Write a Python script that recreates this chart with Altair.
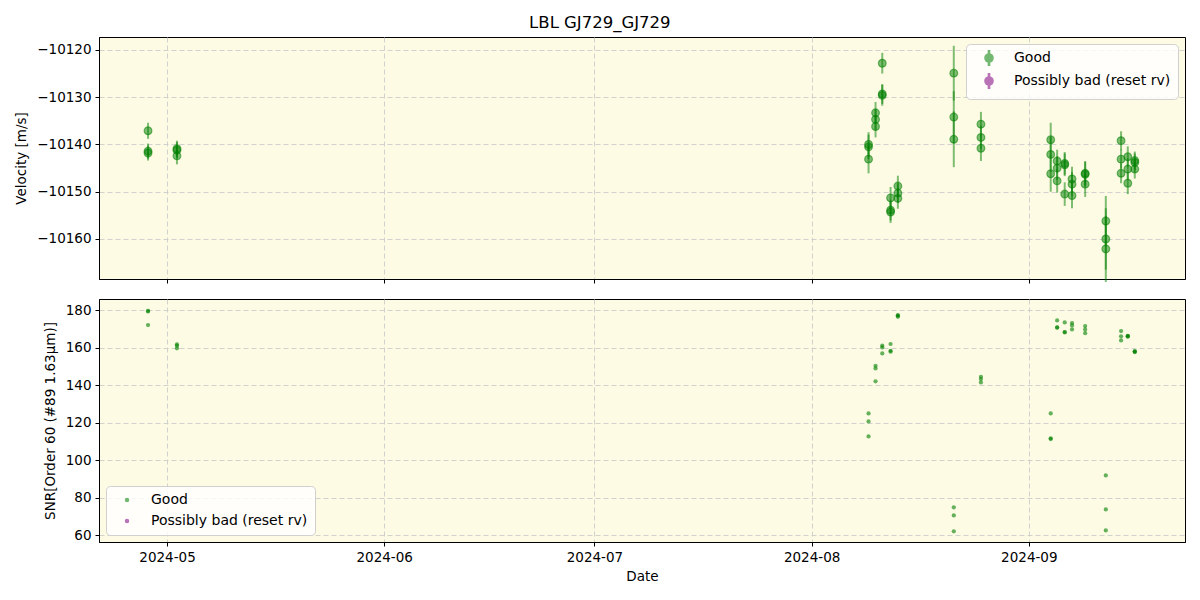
import altair as alt
import pandas as pd

# ---- data ----
nights = [
    "2024-04-28T07:00:00", "2024-05-02T10:00:00",
    "2024-08-09T03:00:00", "2024-08-10T03:00:00", "2024-08-11T02:00:00",
    "2024-08-12T06:30:00", "2024-08-13T07:30:00", "2024-08-21T07:00:00",
    "2024-08-25T04:00:00",
    "2024-09-04T03:00:00", "2024-09-05T01:00:00", "2024-09-06T03:00:00",
    "2024-09-07T04:00:00", "2024-09-09T01:00:00", "2024-09-11T23:45:00",
    "2024-09-14T04:00:00", "2024-09-15T03:00:00", "2024-09-16T03:00:00",
]
velocity = [
    [-10137.1, -10141.4, -10141.8],
    [-10140.9, -10141.2, -10142.4],
    [-10140.0, -10140.5, -10143.1],
    [-10133.3, -10134.7, -10136.2],
    [-10122.8, -10129.3, -10129.6],
    [-10151.3, -10153.9, -10154.3],
    [-10148.8, -10150.3, -10151.4],
    [-10124.9, -10134.2, -10138.9],
    [-10135.7, -10138.5, -10140.8],
    [-10139.0, -10142.1, -10146.2],
    [-10143.5, -10145.0, -10147.7],
    [-10144.0, -10144.3, -10150.5],
    [-10147.3, -10148.4, -10150.8],
    [-10146.1, -10146.3, -10148.4],
    [-10156.2, -10160.0, -10162.1],
    [-10139.2, -10143.1, -10146.1],
    [-10142.6, -10145.2, -10148.2],
    [-10143.4, -10143.8, -10145.2],
]
velocity_err = [
    [1.7, 1.6, 1.6],
    [1.7, 1.7, 1.8],
    [2.6, 2.6, 3.0],
    [2.3, 2.2, 2.3],
    [2.2, 2.1, 2.2],
    [2.3, 2.2, 2.3],
    [2.2, 2.1, 2.2],
    [5.8, 5.5, 5.9],
    [2.6, 2.5, 2.7],
    [3.6, 3.7, 3.8],
    [2.4, 2.5, 2.5],
    [2.4, 2.4, 2.5],
    [2.6, 2.6, 2.7],
    [2.6, 2.6, 2.7],
    [5.3, 6.5, 7.0],
    [2.0, 2.0, 2.1],
    [2.2, 2.3, 2.3],
    [1.9, 1.9, 2.0],
]
snr = [
    [172.0, 179.6, 179.3],
    [161.7, 161.0, 159.6],
    [124.9, 120.6, 112.6],
    [150.3, 148.9, 142.0],
    [156.9, 161.0, 160.1],
    [161.9, 158.3, 157.8],
    [177.3, 176.4, 177.0],
    [74.8, 70.5, 62.0],
    [144.4, 143.2, 141.4],
    [124.9, 111.2, 111.6],
    [174.5, 170.8, 170.6],
    [173.4, 168.1, 168.3],
    [173.1, 171.8, 169.7],
    [171.5, 169.7, 167.7],
    [91.8, 73.7, 62.5],
    [168.8, 166.0, 163.8],
    [166.3, 165.8, 166.1],
    [157.8, 158.1, 157.6],
]
categories = ["Good", "Possibly bad (reset rv)"]
cat_colors = ["green", "purple"]
vel_ticks = [-10160, -10150, -10140, -10130, -10120]
snr_ticks = [60, 80, 100, 120, 140, 160, 180]

rows = []
for d, vs, es, ss in zip(nights, velocity, velocity_err, snr):
    for v, e, s in zip(vs, es, ss):
        rows.append({"date": d, "vel": v, "lo": v - e, "hi": v + e, "snr": s, "flag": "Good"})
df = pd.DataFrame(rows)

FONT = "DejaVu Sans"
x_dom = [alt.DateTime(year=2024, month=4, date=21, hours=7),
         alt.DateTime(year=2024, month=9, date=23, hours=7)]

def xenc(show_labels):
    return alt.X(
        "date:T",
        scale=alt.Scale(domain=x_dom),
        axis=alt.Axis(
            title="Date" if show_labels else None,
            format="%Y-%m",
            tickCount=alt.TimeIntervalStep(interval="month", step=1),
            labels=show_labels,
            labelPadding=4,
        ),
    )

color_scale = alt.Scale(domain=categories, range=cat_colors)

legend_common = dict(
    title=None, fillColor="rgba(255,255,255,0.8)", strokeColor="#d0d0d0",
    cornerRadius=4, padding=7, labelFontSize=14, labelFont=FONT,
    symbolOpacity=0.55, offset=7,
)

errbar_symbol = ("M -1 0 A 1 1 0 1 1 1 0 A 1 1 0 1 1 -1 0 Z "
                 "M -0.14 -1.8 L 0.14 -1.8 L 0.14 1.8 L -0.14 1.8 Z")

top_legend = alt.Legend(orient="top-right", symbolSize=66, symbolType=errbar_symbol,
                        symbolOffset=9, labelOffset=18, rowPadding=1, **legend_common)

base = alt.Chart(df)
rules = base.mark_rule(strokeWidth=2, opacity=0.5).encode(
    x=xenc(False),
    y=alt.Y("lo:Q"),
    y2="hi:Q",
    color=alt.Color("flag:N", scale=color_scale, legend=top_legend),
)
pts = base.mark_circle(size=60, fillOpacity=0.5, strokeOpacity=0.5,
                       stroke="green", strokeWidth=1.2).encode(
    x=xenc(False),
    y=alt.Y("vel:Q", title="Velocity [m/s]",
            scale=alt.Scale(domain=[-10168.47, -10117.25], nice=False, zero=False),
            axis=alt.Axis(values=vel_ticks, format="d")),
    color=alt.Color("flag:N", scale=color_scale, legend=top_legend),
)
top = alt.layer(rules, pts).properties(width=1086, height=242)

bottom = base.mark_circle(size=18, opacity=0.6).encode(
    x=xenc(True),
    y=alt.Y("snr:Q", title="SNR[Order 60 (#89 1.63μm)]",
            scale=alt.Scale(domain=[56.3, 185.9], nice=False, zero=False),
            axis=alt.Axis(values=snr_ticks)),
    color=alt.Color("flag:N", scale=color_scale,
                    legend=alt.Legend(orient="bottom-left", symbolSize=20, rowPadding=7,
                                      symbolOffset=7, labelOffset=17, **legend_common)),
).properties(width=1086, height=243)

chart = alt.vconcat(top, bottom, spacing=14).resolve_scale(
    color="independent"
).resolve_legend(color="independent").properties(
    title=alt.Title("LBL GJ729_GJ729", fontSize=16.5, fontWeight="normal", font=FONT,
                    offset=5, anchor="middle"),
    padding={"left": 14, "top": 15, "right": 14, "bottom": 10},
).configure_view(
    fill="#FDFBE3", stroke="black", strokeWidth=1,
).configure_axis(
    labelFont=FONT, titleFont=FONT, labelFontSize=13.5, titleFontSize=13.5,
    titleFontWeight="normal", labelColor="black", titleColor="black",
    domainColor="black", tickColor="black", tickSize=4, domain=True,
    gridColor="#cccccc", gridDash=[5, 3], gridWidth=0.9,
).configure_axisY(
    titlePadding=8, labelPadding=4,
).configure_axisX(
    titlePadding=6,
)

chart.save("out.html", embed_options={"renderer": "svg", "actions": False})
